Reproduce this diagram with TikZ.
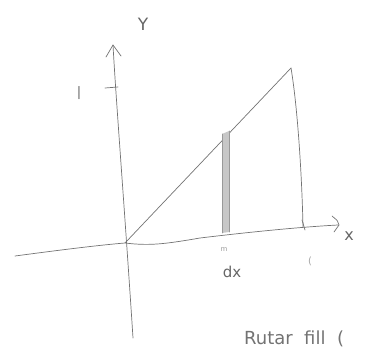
\documentclass[tikz,border=0pt]{standalone}
\usepackage{fontspec}
\setmainfont{DejaVu Sans}
\begin{document}
\begin{tikzpicture}[x=1pt,y=-1pt,
  pencil/.style={draw=black!55,line width=0.7pt,line cap=round,line join=round},
  faint/.style={draw=black!40,line width=0.6pt,line cap=round},
  hand/.style={text=black!60,inner sep=0pt,font=\fontsize{14}{14}\selectfont}]
\useasboundingbox (0,0) rectangle (366,348);
% named points
\coordinate (O) at (125,243);
\coordinate (ytop) at (113,45);
\coordinate (ybot) at (133,338);
\coordinate (xleft) at (15,256);
\coordinate (xright) at (338,225);
\coordinate (P) at (291,68);
\coordinate (Q) at (303,227);
% y axis
\draw[pencil] (ybot) .. controls (124,200) and (116,100) .. (ytop);
\draw[pencil] (106,57) -- (ytop) -- (121,56);
\node[hand,font=\fontsize{17}{17}\selectfont] (ylab) at (143,24) {Y};
% tick at 1 on y axis
\draw[pencil] (105,88) -- (118,87);
\node[hand,font=\fontsize{13}{13}\selectfont] (one) at (79,93) {\textbar};
% x axis
\draw[pencil] (xleft) .. controls (60,250) and (100,245) .. (O)
  .. controls (150,246) and (165,244) .. (200,238)
  .. controls (250,232) and (300,227) .. (xright);
\draw[pencil] (332,216) .. controls (338,221) .. (339,225) .. controls (337,229) .. (334,232);
\node[hand,font=\fontsize{16}{16}\selectfont] (xlab) at (349,236) {x};
% diagonal
\draw[pencil] (O) -- (P);
% right vertical
\draw[pencil] (P) .. controls (298,110) and (302,180) .. (Q);
\draw[pencil] (302,220) -- (305,230);
\node[hand,font=\fontsize{10}{10}\selectfont,text=black!35] (xone) at (310,261) {(};
% shaded strip
\fill[black!22] (222,134) -- (229,131) -- (229,232) -- (222,233) -- cycle;
\draw[faint] (222,134) -- (222,233);
\draw[faint] (229,131) -- (229,232);
% dx label
\node[hand,font=\fontsize{7}{7}\selectfont,text=black!40] (mk) at (224,250) {m};
\node[hand,font=\fontsize{15}{15}\selectfont,text=black!60] (dx) at (232,272) {dx};
% bottom text
\node[hand,anchor=base west,font=\fontsize{18}{18}\selectfont,text=black!55] (note) at (244,344) {Rutar\ \ fill\ \ (};
\end{tikzpicture}
\end{document}
